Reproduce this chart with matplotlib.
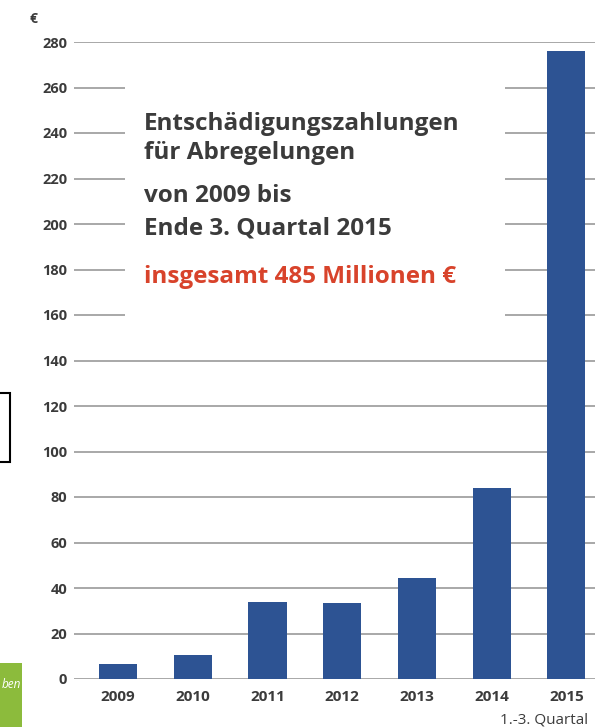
import matplotlib.pyplot as plt
from matplotlib.patches import Rectangle

years = ['2009', '2010', '2011', '2012', '2013', '2014', '2015']
values = [6.5, 10.5, 34, 33.5, 44.5, 84, 276]
y_ticks = [0, 20, 40, 60, 80, 100, 120, 140, 160, 180, 200, 220, 240, 260, 280]
y_labels = ['0', '20', '40', '60', '80', '100', '120', '140', '160', '180', '200',
            '220', '240', '260', '280']
title_lines = ['Entschädigungszahlungen', 'für Abregelungen', 'von 2009 bis',
               'Ende 3. Quartal 2015']
total_text = 'insgesamt 485 Millionen €'

W, H = 595, 728
bar_color = '#2d5393'
text_grey = '#3b3b3b'
grid_grey = '#a8a8a8'
red = '#d8432b'

plt.rcParams['font.family'] = ['Open Sans', 'DejaVu Sans']

fig = plt.figure(figsize=(W / 100, H / 100), dpi=100)
fig.patch.set_facecolor('white')


def fx(px):
    return px / W


def fy(py):
    return 1 - py / H


ax = fig.add_axes([fx(74), fy(679), fx(600) - fx(74), fy(42) - fy(679)])
ax.set_facecolor('none')
x = list(range(len(years)))
ax.bar(x, values, width=0.51, color=bar_color, zorder=3)
ax.set_xlim(-0.59, 6.45)
ax.set_ylim(0, 280)

ax.set_yticks(y_ticks)
ax.set_yticklabels(y_labels)
ax.set_xticks(x)
ax.set_xticklabels(years)
ax.tick_params(axis='both', length=0, colors=text_grey)
ax.tick_params(axis='y', pad=5, labelsize=10.5)
ax.tick_params(axis='x', pad=8, labelsize=11)
for lab in ax.get_xticklabels() + ax.get_yticklabels():
    lab.set_fontweight('bold')
for s in ax.spines.values():
    s.set_visible(False)
ax.set_axisbelow(True)
ax.yaxis.grid(True, color=grid_grey, linewidth=1.4)

# white panel behind the text interrupts the gridlines
ax.add_patch(Rectangle((0.09, 150), 5.09, 122, facecolor='white',
                       edgecolor='none', zorder=1))

baselines = [130, 159, 202, 235]
for t, py in zip(title_lines, baselines):
    fig.text(fx(144), fy(py), t, fontsize=17.5, fontweight='bold',
             color=text_grey, va='baseline', ha='left')
fig.text(fx(144), fy(283), total_text, fontsize=17.5, fontweight='bold',
         color=red, va='baseline', ha='left')

fig.text(fx(30), fy(19), '€', fontsize=10, fontweight='bold', color=text_grey,
         va='center', ha='left')
fig.text(fx(500), fy(720), '1.-3. Quartal', fontsize=11, color=text_grey,
         va='center', ha='left')

# cropped frame at the left edge
fig.add_artist(Rectangle((fx(-50), fy(462)), fx(60), fy(393) - fy(462),
                         transform=fig.transFigure, facecolor='none',
                         edgecolor='black', linewidth=1.5))
# green logo at the bottom-left
logo = Rectangle((0, fy(727)), fx(22), fy(663) - fy(727),
                 transform=fig.transFigure, facecolor='#8cbb3c', edgecolor='none')
fig.add_artist(logo)
fig.text(fx(21), fy(684), 'ben', fontsize=8.5, style='italic', color='white',
         va='center', ha='right')

fig.savefig('out.png', dpi=100)
